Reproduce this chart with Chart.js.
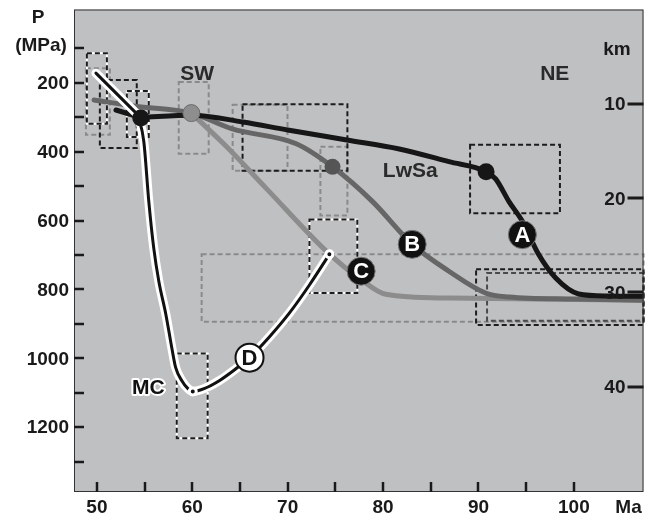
<!DOCTYPE html>
<html>
<head>
<meta charset="utf-8">
<script src="https://cdn.jsdelivr.net/npm/chart.js@4/dist/chart.umd.min.js"></script>
<style>
  html, body { margin: 0; padding: 0; background: #fff; }
  #grafico { display: block; }
</style>
</head>
<body>
<canvas id="grafico" width="653" height="518"></canvas>
<script>
// Trayectorias P-T-t (edad en Ma, presión en MPa)
// A: tramo recto inicial + curva
const edadA1 = [52.0, 54.6];
const presionA1 = [279, 301];
const edadA = [54.6, 60.0, 65.3, 70.0, 76.2, 81.7, 86.9, 90.8, 91.8, 93.2, 94.6, 96.3, 98.1, 100.5, 103.7, 107.3];
const presionA = [301, 294, 314, 337, 366, 392, 429, 458, 479, 545, 602, 698, 767, 813, 819, 820];

const edadB = [49.7, 54.0, 59.9, 64.2, 70.9, 74.7, 78.9, 83.1, 86.9, 90.8, 93.2, 100.0, 107.3];
const presionB = [250, 268, 288, 334, 377, 444, 545, 670, 747, 811, 822, 828, 831];

const edadC = [59.9, 63.5, 67.8, 74.4, 77.5, 80.3, 86.9, 107.3];
const presionC = [288, 383, 508, 698, 767, 814, 825, 831];

// D: tramo recto inicial + curva
const edadD1 = [49.9, 54.3];
const presionD1 = [172, 293];
const edadD = [54.3, 54.92, 55.44, 55.96, 56.49, 57.22, 57.85, 58.26, 58.89, 59.52, 60.05, 61.3, 62.87, 64.44, 66.0, 68.1, 70.19, 72.28, 74.37];
const presionD = [293, 371, 544, 680, 776, 871, 969, 1027, 1064, 1087, 1096, 1087, 1064, 1033, 998, 937, 868, 787, 698];

// Puntos destacados
const puntoNegroMa = [54.6, 90.8];
const puntoNegroP = [302, 458];
const puntoGrisMa = [59.9];
const puntoGrisP = [288];
const puntoOscuroMa = [74.7];
const puntoOscuroP = [444];
const puntoFinMa = [60.05, 74.37];
const puntoFinP = [1096, 698];

// Cajas de incertidumbre [edad min, edad max, P min, P max]
const cajasBlancoNegro = [[48.95, 51.05, 114, 319], [53.14, 55.44, 224, 357], [72.28, 77.3, 597, 810], [58.37, 61.61, 986, 1232]];
const cajasNegras = [[50.31, 54.18, 192, 389], [65.27, 76.26, 262, 455], [89.12, 98.54, 380, 579], [89.75, 107.3, 741, 903]];
const cajasGrises = [[48.85, 51.36, 158, 351], [58.58, 61.72, 198, 406], [64.23, 69.98, 264, 455], [73.43, 76.26, 386, 585], [60.98, 107.3, 698, 894]];
const cajasGrisOscuro = [[90.9, 107.3, 752, 891]];

// Etiquetas de trayectoria y textos
const etiquetas = ['A', 'B', 'C', 'D'];
const etiquetaMa = [94.6, 83.05, 77.7, 66.0];
const etiquetaP = [641, 669, 747, 998];
const textos = ['SW', 'NE', 'LwSa', 'MC'];
const textoMa = [60.5, 98.0, 82.85, 55.4];
const textoP = [175, 175, 458, 1087];

// Ticks
const ticksMa = [50, 60, 70, 80, 90, 100];
const ticksMaMenor = [55, 65, 75, 85, 95];
const ticksP = [200, 400, 600, 800, 1000, 1200];
const ticksPMenor = [100, 300, 500, 700, 900, 1100, 1300];
const ticksKm = [10, 20, 30, 40];

const pMin = -12.8, pMax = 1388;
function kmDeP(p) { return (p + 11.3) / 27.33; }

function puntos(xs, ys) {
  return xs.map((x, i) => ({ x: x, y: ys[i] }));
}

const FUENTE = 'bold 19px "Liberation Sans", Arial, sans-serif';
const FUENTE_TEXTO = 'bold 21px "Liberation Sans", Arial, sans-serif';

const pluginFigura = {
  id: 'figura',
  beforeDatasetsDraw(chart) {
    const ctx = chart.ctx;
    const a = chart.chartArea;
    const sx = chart.scales.x, sy = chart.scales.y;
    ctx.save();
    ctx.fillStyle = '#bfc0c2';
    ctx.fillRect(a.left, a.top, a.right - a.left, a.bottom - a.top);

    function caja(c, color, blanco) {
      const x0 = sx.getPixelForValue(c[0]), x1 = sx.getPixelForValue(c[1]);
      const y0 = sy.getPixelForValue(c[2]), y1 = sy.getPixelForValue(c[3]);
      ctx.lineWidth = 2;
      if (blanco) {
        ctx.setLineDash([]);
        ctx.strokeStyle = '#ffffff';
        ctx.strokeRect(x0, y0, x1 - x0, y1 - y0);
      }
      ctx.setLineDash([5, 3]);
      ctx.strokeStyle = color;
      ctx.strokeRect(x0, y0, x1 - x0, y1 - y0);
    }
    cajasGrises.forEach(c => caja(c, '#8a8a8a', false));
    cajasGrisOscuro.forEach(c => caja(c, '#4a4a4a', false));
    cajasNegras.forEach(c => caja(c, '#1c1c1c', false));
    cajasBlancoNegro.forEach(c => caja(c, '#1c1c1c', true));
    ctx.restore();
  },
  afterDatasetsDraw(chart) {
    const ctx = chart.ctx;
    const sx = chart.scales.x, sy = chart.scales.y;
    ctx.save();
    ctx.textAlign = 'center';
    ctx.textBaseline = 'middle';

    // etiquetas en círculo
    etiquetas.forEach((t, i) => {
      const x = sx.getPixelForValue(etiquetaMa[i]);
      const y = sy.getPixelForValue(etiquetaP[i]);
      ctx.beginPath();
      ctx.arc(x, y, 14, 0, Math.PI * 2);
      if (t === 'D') {
        ctx.fillStyle = '#ffffff';
        ctx.fill();
        ctx.lineWidth = 2;
        ctx.strokeStyle = '#111';
        ctx.stroke();
        ctx.fillStyle = '#111';
      } else {
        ctx.fillStyle = '#111';
        ctx.fill();
        ctx.lineWidth = 1;
        ctx.strokeStyle = '#777';
        ctx.stroke();
        ctx.fillStyle = '#ffffff';
      }
      ctx.font = 'bold 22px "Liberation Sans", Arial, sans-serif';
      ctx.fillText(t, x, y + 1);
    });

    // textos
    ctx.font = FUENTE_TEXTO;
    textos.forEach((t, i) => {
      const x = sx.getPixelForValue(textoMa[i]);
      const y = sy.getPixelForValue(textoP[i]);
      if (t === 'MC') {
        ctx.lineWidth = 4;
        ctx.strokeStyle = '#ffffff';
        ctx.lineJoin = 'round';
        ctx.strokeText(t, x, y);
        ctx.fillStyle = '#111';
      } else {
        ctx.fillStyle = '#2a2a2a';
      }
      ctx.fillText(t, x, y);
    });
    ctx.restore();
  },
  afterDraw(chart) {
    const ctx = chart.ctx;
    const a = chart.chartArea;
    const sx = chart.scales.x, sy = chart.scales.y, sk = chart.scales.km;
    ctx.save();
    ctx.strokeStyle = '#333';
    ctx.lineWidth = 1;
    ctx.strokeRect(a.left + 0.5, a.top + 0.5, a.right - a.left - 1, a.bottom - a.top - 1);

    ctx.strokeStyle = '#1a1a1a';
    ctx.fillStyle = '#1a1a1a';
    ctx.lineWidth = 2.5;
    ctx.font = FUENTE;

    // eje X
    ctx.textAlign = 'center';
    ctx.textBaseline = 'middle';
    ticksMa.concat(ticksMaMenor).forEach(v => {
      const x = Math.round(sx.getPixelForValue(v));
      ctx.beginPath();
      ctx.moveTo(x, a.bottom);
      ctx.lineTo(x, a.bottom - 10);
      ctx.stroke();
    });
    ticksMa.forEach(v => ctx.fillText(String(v), sx.getPixelForValue(v), a.bottom + 16));
    ctx.fillText('Ma', a.right - 15, a.bottom + 16);

    // eje P (izquierda)
    ticksP.concat(ticksPMenor).forEach(v => {
      const y = Math.round(sy.getPixelForValue(v));
      ctx.beginPath();
      ctx.moveTo(a.left, y);
      ctx.lineTo(a.left + 10, y);
      ctx.stroke();
    });
    ctx.textAlign = 'right';
    ticksP.forEach(v => ctx.fillText(String(v), a.left - 5, sy.getPixelForValue(v) + 1));
    ctx.textAlign = 'center';
    ctx.fillText('P', 38, 18);
    ctx.fillText('(MPa)', 41, 46);

    // eje km (derecha)
    ctx.lineWidth = 3;
    ticksKm.forEach(v => {
      const y = Math.round(sk.getPixelForValue(v));
      ctx.beginPath();
      ctx.moveTo(a.right - 16, y);
      ctx.lineTo(a.right, y);
      ctx.stroke();
    });
    ctx.textAlign = 'right';
    ticksKm.forEach(v => ctx.fillText(String(v), a.right - 18, sk.getPixelForValue(v) + 1));
    ctx.textAlign = 'center';
    ctx.fillText('km', 617, 50);
    ctx.restore();
  }
};

const linea = (datos, color, ancho, orden, recta) => ({
  type: 'line',
  data: datos,
  borderColor: color,
  borderWidth: ancho,
  pointRadius: 0,
  fill: false,
  tension: recta ? 0 : 0.4,
  cubicInterpolationMode: recta ? 'default' : 'monotone',
  borderCapStyle: 'round',
  borderJoinStyle: 'round',
  order: orden
});

const punto = (datos, relleno, radio, borde, anchoBorde, orden) => ({
  type: 'scatter',
  data: datos,
  backgroundColor: relleno,
  borderColor: borde,
  borderWidth: anchoBorde,
  pointRadius: radio,
  order: orden
});

new Chart(document.getElementById('grafico'), {
  type: 'line',
  data: {
    datasets: [
      punto(puntos(puntoFinMa, puntoFinP), '#111', 3.5, '#ffffff', 3, -4),
      punto(puntos(puntoNegroMa, puntoNegroP), '#161616', 8.5, '#161616', 0, -3),
      punto(puntos(puntoGrisMa, puntoGrisP), '#8e8e8e', 8.5, '#6a6a6a', 1, -2),
      punto(puntos(puntoOscuroMa, puntoOscuroP), '#555555', 8, '#555555', 0, -1),
      linea(puntos(edadD1, presionD1), '#111111', 3, 0, true),
      linea(puntos(edadD, presionD), '#111111', 3, 0, false),
      linea(puntos(edadD1, presionD1), '#ffffff', 9, 1, true),
      linea(puntos(edadD, presionD), '#ffffff', 9, 1, false),
      linea(puntos(edadA1, presionA1), '#161616', 5, 2, true),
      linea(puntos(edadA, presionA), '#161616', 5, 2, false),
      linea(puntos(edadB, presionB), '#666666', 5, 3, false),
      linea(puntos(edadC, presionC), '#8c8c8c', 5, 4, false)
    ]
  },
  options: {
    responsive: false,
    animation: false,
    devicePixelRatio: 1,
    layout: { padding: { left: 74, top: 7, right: 8, bottom: 26 } },
    plugins: { legend: { display: false }, tooltip: { enabled: false } },
    scales: {
      x: { type: 'linear', min: 47.6, max: 107.3, display: false },
      y: { type: 'linear', reverse: true, min: pMin, max: pMax, display: false },
      km: { type: 'linear', position: 'right', reverse: true, min: kmDeP(pMin), max: kmDeP(pMax), display: false }
    }
  },
  plugins: [pluginFigura]
});
</script>
</body>
</html>
